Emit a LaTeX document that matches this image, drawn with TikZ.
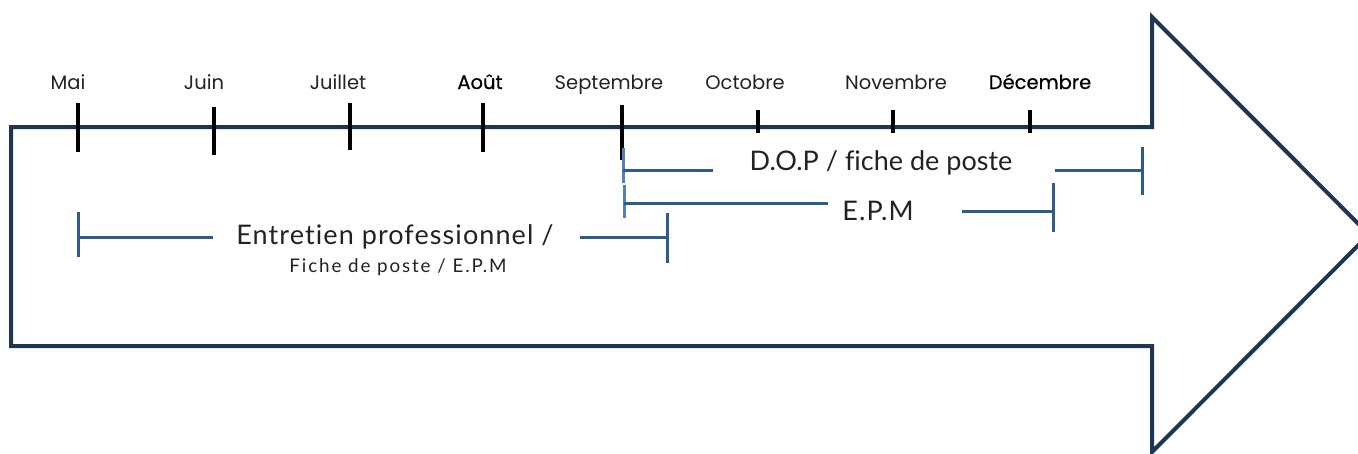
\documentclass[tikz,border=0pt]{standalone}
\usepackage{fontspec}
\setmainfont[Ligatures=NoCommon]{Lato}
\newfontfamily\labelfont[Ligatures=NoCommon,LetterSpace=4]{Lato}
\newfontfamily\plainlabelfont[Ligatures=NoCommon]{Lato}
\newfontfamily\subfont[Ligatures=NoCommon,LetterSpace=10]{Lato}
\newfontfamily\monthfont{Poppins}
\newfontfamily\monthboldfont[FakeBold=0.5]{Poppins}
\definecolor{navy}{HTML}{1F3550}
\definecolor{brk}{HTML}{2E5A8C}
\definecolor{brklight}{HTML}{4F81BD}
\definecolor{txt}{HTML}{222222}
\begin{document}
\begin{tikzpicture}[x={(1pt,0)},y={(0,-1pt)},
  arrowshape/.style={draw=navy,line width=4pt,line join=miter},
  tick/.style={draw=black,line width=4pt},
  month/.style={font=\monthfont\fontsize{19.5}{22}\selectfont,text=txt,anchor=base,inner sep=0pt},
  monthb/.style={font=\monthboldfont\fontsize{19.5}{22}\selectfont,text=black,anchor=base,inner sep=0pt},
  bar/.style={draw=brk,line width=3pt},
  barlight/.style={draw=brklight,line width=3pt},
  label/.style={font=\labelfont\fontsize{27}{30}\selectfont,text=txt,inner sep=0pt},
  plainlabel/.style={font=\plainlabelfont\fontsize{27}{30}\selectfont,text=txt,inner sep=0pt},
  sublabel/.style={font=\subfont\fontsize{18.8}{21}\selectfont,text=txt,inner sep=0pt}]
\useasboundingbox (0,0) rectangle (1358,453);
\clip (0,0) rectangle (1358,453);
% big arrow
\draw[arrowshape] (11,127) -- (1152,127) -- (1152,17) -- (1369,234.5) -- (1152,452) -- (1152,346) -- (11,346) -- cycle;
% ticks
\draw[tick] (78,103) -- (78,152);
\draw[tick] (214,107) -- (214,155);
\draw[tick] (350,103) -- (350,150);
\draw[tick] (483,103) -- (483,152);
\draw[tick] (622,105) -- (622,160);
\draw[tick] (758,110) -- (758,133);
\draw[tick] (893,110) -- (893,133);
\draw[tick] (1030,110) -- (1030,133);
% months
\node[month] (mai) at (68,89) {Mai};
\node[month] (juin) at (204,89) {Juin};
\node[month] (juil) at (338,89) {Juillet};
\node[monthb] (aout) at (480,89) {Août};
\node[month] (sept) at (609,89) {Septembre};
\node[month] (oct) at (745,89) {Octobre};
\node[month] (nov) at (896,89) {Novembre};
\node[monthb] (dec) at (1040,89) {Décembre};
% D.O.P bracket
\node[plainlabel] (dop) at (881,163) {D.O.P / fiche de poste};
\coordinate (dopL) at (623,170);
\coordinate (dopR) at (1142,170);
\draw[barlight] (623,148) -- (623,183);
\draw[bar] (dopL) -- (713,170);
\draw[bar] (1055,170) -- (dopR);
\draw[bar] (1142,147) -- (1142,195);
% E.P.M bracket
\node[label] (epm) at (878,211) {E.P.M};
\draw[barlight] (624,185) -- (624,218);
\draw[bar] (624,203) -- (828,203);
\draw[bar] (962,211) -- (1053,211);
\draw[bar] (1053,183) -- (1053,232);
% Entretien bracket
\node[label] (ent) at (395,237) {Entretien professionnel /};
\node[sublabel] (sub) at (398,267) {Fiche de poste / E.P.M};
\draw[bar] (78,212) -- (78,257);
\draw[bar] (78,237) -- (213,237);
\draw[bar] (580,237) -- (667,237);
\draw[bar] (667,213) -- (667,263);
\end{tikzpicture}
\end{document}
